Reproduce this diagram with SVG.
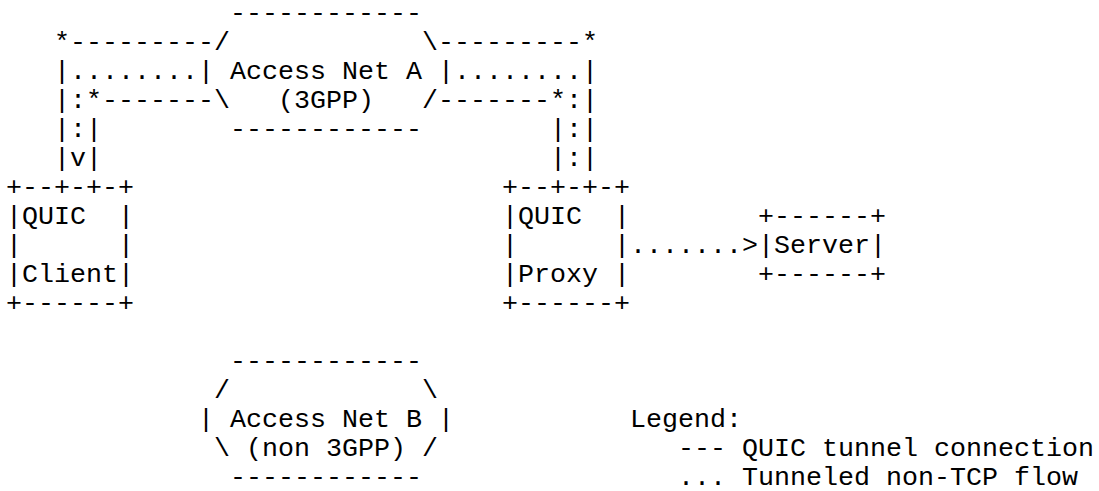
<svg xmlns="http://www.w3.org/2000/svg" width="1099" height="491" viewBox="0 0 1099 491" xml:space="preserve">
<style>
text { font-family: "Liberation Mono", "Courier New", monospace; font-size: 26.67px; fill: #000; white-space: pre; }
</style>
<rect width="1099" height="491" fill="#fff"/>
<g transform="translate(6,0)">
  <g id="access-net-a">
    <text x="224" y="21">------------</text>
    <text x="208" y="50">/</text>
    <text x="416" y="50">\</text>
    <text x="192" y="79">|</text>
    <text x="224" y="79">Access Net A</text>
    <text x="432" y="79">|</text>
    <text x="208" y="108">\</text>
    <text x="272" y="108">(3GPP)</text>
    <text x="416" y="108">/</text>
    <text x="224" y="137">------------</text>
  </g>
  <g id="connectors">
    <text x="48" y="50">*---------</text>
    <text x="432" y="50">---------*</text>
    <text x="48" y="79">|........</text>
    <text x="448" y="79">........|</text>
    <text x="48" y="108">|:*-------</text>
    <text x="432" y="108">-------*:|</text>
    <text x="48" y="137">|:|</text>
    <text x="544" y="137">|:|</text>
    <text x="48" y="166">|v|</text>
    <text x="544" y="166">|:|</text>
    <text x="624" y="253">.......&gt;</text>
  </g>
  <g id="quic-client">
    <text x="0" y="195">+--+-+-+</text>
    <text x="0" y="224">|QUIC  |</text>
    <text x="0" y="253">|      |</text>
    <text x="0" y="282">|Client|</text>
    <text x="0" y="311">+------+</text>
  </g>
  <g id="quic-proxy">
    <text x="496" y="195">+--+-+-+</text>
    <text x="496" y="224">|QUIC  |</text>
    <text x="496" y="253">|      |</text>
    <text x="496" y="282">|Proxy |</text>
    <text x="496" y="311">+------+</text>
  </g>
  <g id="server">
    <text x="752" y="224">+------+</text>
    <text x="752" y="253">|Server|</text>
    <text x="752" y="282">+------+</text>
  </g>
  <g id="access-net-b">
    <text x="224" y="369">------------</text>
    <text x="208" y="398">/</text>
    <text x="416" y="398">\</text>
    <text x="192" y="427">| Access Net B |</text>
    <text x="208" y="456">\ (non 3GPP) /</text>
    <text x="224" y="485">------------</text>
  </g>
  <g id="legend">
    <text x="624" y="427">Legend:</text>
    <text x="672" y="456">--- QUIC tunnel connection</text>
    <text x="672" y="485">... Tunneled non-TCP flow</text>
  </g>
</g>
</svg>
